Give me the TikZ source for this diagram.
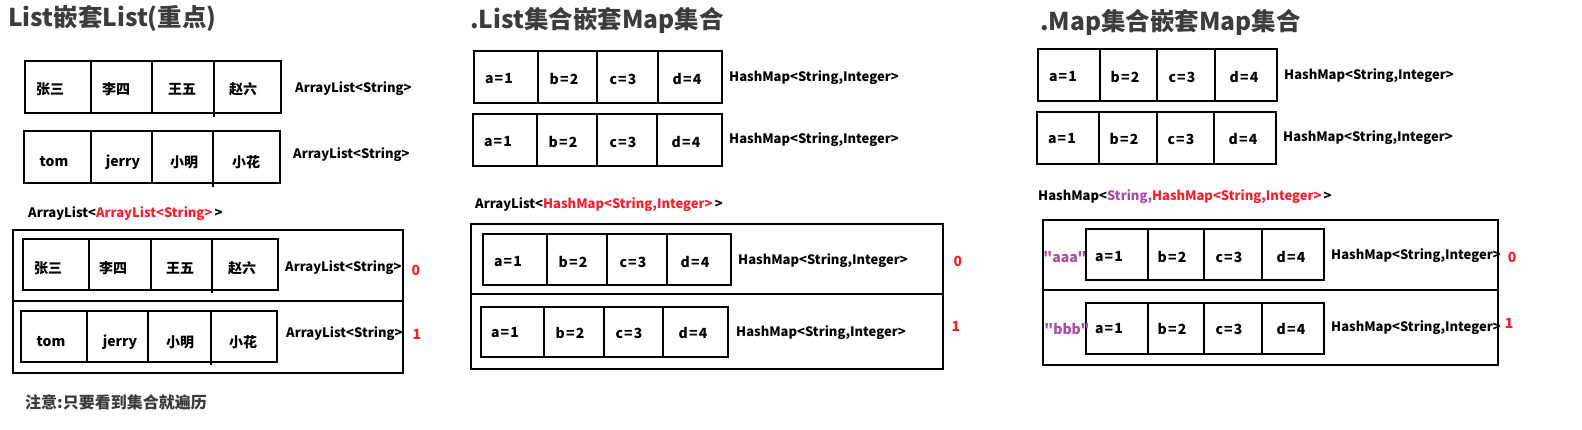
\documentclass[tikz,border=0pt]{standalone}
\usepackage{fontspec}
\setmainfont{Noto Sans CJK SC}[Ligatures=TeXOff]
\definecolor{myred}{RGB}{245,30,45}
\definecolor{mypurple}{RGB}{168,76,168}
\definecolor{ttlgray}{RGB}{60,60,60}
\newcommand\CellRect[8]{%
  \draw[box] (#1,#2) rectangle (#3,#4);
  \draw[box] (#5,#2)--(#5,#4) (#6,#2)--(#6,#4) (#7,#2)--(#7,#8);}
\newcommand\Eq[2]{#1\kern1.2pt=\kern1.2pt#2}
\tikzset{
  box/.style={line width=2.7pt},
  cell/.style={font=\fontsize{14}{14}\selectfont\bfseries, inner sep=0pt, anchor=center},
  lab/.style={font=\fontsize{13}{13}\selectfont\bfseries, inner sep=0pt, anchor=west},
  idx/.style={font=\fontsize{14}{14}\selectfont\bfseries, text=myred, inner sep=0pt, anchor=center},
  ttl/.style={font=\fontsize{24.5}{24.5}\selectfont\bfseries, text=ttlgray, inner sep=0pt, anchor=west},
  note/.style={font=\fontsize{16}{16}\selectfont\bfseries, text=ttlgray, inner sep=0pt, anchor=west}
}
\begin{document}
\begin{tikzpicture}[x=1pt,y=-1pt]
\useasboundingbox[fill=white] (0,0) rectangle (1582,430);
% ================= Panel 1 =================
\node[ttl] (t1) at (8,19) {List嵌套List(重点)};
\CellRect{25}{61}{281}{113}{91}{152}{214}{117}
\node[cell] (a1) at (50,89) {张三};
\node[cell] (a2) at (116,89) {李四};
\node[cell] (a3) at (182,89) {王五};
\node[cell] (a4) at (243,89) {赵六};
\node[lab] (al) at (295,89) {ArrayList<String>};
\CellRect{24}{131}{280}{183}{91}{152}{213}{187}
\node[cell] (b1) at (54,162) {tom};
\node[cell] (b2) at (123,162) {jerry};
\node[cell] (b3) at (184,162) {小明};
\node[cell] (b4) at (246,162) {小花};
\node[lab] (bl) at (293,155) {ArrayList<String>};
\node[lab] (l1) at (28,214) {ArrayList<\textcolor{myred}{ArrayList<String>}\,>};
\draw[box] (13,230) rectangle (403,373);
\draw[box] (13,301) -- (403,301);
\CellRect{23}{239}{278}{290}{89}{151}{212}{293}
\node[cell] (c1) at (48,268) {张三};
\node[cell] (c2) at (113,268) {李四};
\node[cell] (c3) at (180,268) {王五};
\node[cell] (c4) at (242,268) {赵六};
\node[lab] (cl) at (285,268) {ArrayList<String>};
\node[idx] (c0) at (416,270) {0};
\CellRect{21}{311}{277}{362}{87}{148}{211}{365}
\node[cell] (d1) at (51,342) {tom};
\node[cell] (d2) at (120,342) {jerry};
\node[cell] (d3) at (180,342) {小明};
\node[cell] (d4) at (243,342) {小花};
\node[lab] (dl) at (286,334) {ArrayList<String>};
\node[idx] (d0) at (417,334) {1};
\node[note] (n1) at (25,402) {注意:只要看到集合就遍历};
% ================= Panel 2 =================
\node[ttl] (t2) at (470,20) {.List集合嵌套Map集合};
\CellRect{474}{51}{722}{103}{538}{597}{658}{103}
\node[cell] (e1) at (499,79) {\Eq{a}{1}};
\node[cell] (e2) at (564,79) {\Eq{b}{2}};
\node[cell] (e3) at (623,79) {\Eq{c}{3}};
\node[cell] (e4) at (687,79) {\Eq{d}{4}};
\node[lab] (el) at (729,78) {HashMap<String,Integer>};
\CellRect{473}{114}{722}{166}{537}{597}{657}{166}
\node[cell] (f1) at (498,142) {\Eq{a}{1}};
\node[cell] (f2) at (563,142) {\Eq{b}{2}};
\node[cell] (f3) at (623,142) {\Eq{c}{3}};
\node[cell] (f4) at (686,142) {\Eq{d}{4}};
\node[lab] (fl) at (729,140) {HashMap<String,Integer>};
\node[lab] (l2) at (475,205) {ArrayList<\textcolor{myred}{HashMap<String,Integer>}\,>};
\draw[box] (471,224) rectangle (943,369);
\draw[box] (471,294) -- (943,294);
\CellRect{483}{234}{731}{285}{547}{607}{667}{285}
\node[cell] (g1) at (508,262) {\Eq{a}{1}};
\node[cell] (g2) at (573,262) {\Eq{b}{2}};
\node[cell] (g3) at (633,262) {\Eq{c}{3}};
\node[cell] (g4) at (695,262) {\Eq{d}{4}};
\node[lab] (gl) at (738,261) {HashMap<String,Integer>};
\node[idx] (g0) at (958,261) {0};
\CellRect{481}{307}{728}{357}{544}{604}{663}{357}
\node[cell] (h1) at (505,333) {\Eq{a}{1}};
\node[cell] (h2) at (570,333) {\Eq{b}{2}};
\node[cell] (h3) at (629,333) {\Eq{c}{3}};
\node[cell] (h4) at (693,333) {\Eq{d}{4}};
\node[lab] (hl) at (736,333) {HashMap<String,Integer>};
\node[idx] (h0) at (956,326) {1};
% ================= Panel 3 =================
\node[ttl] (t3) at (1040,22) {.Map集合嵌套Map集合};
\CellRect{1038}{49}{1277}{101}{1100}{1157}{1215}{101}
\node[cell] (i1) at (1063,77) {\Eq{a}{1}};
\node[cell] (i2) at (1125,77) {\Eq{b}{2}};
\node[cell] (i3) at (1182,77) {\Eq{c}{3}};
\node[cell] (i4) at (1244,77) {\Eq{d}{4}};
\node[lab] (il) at (1284,76) {HashMap<String,Integer>};
\CellRect{1037}{112}{1276}{164}{1099}{1157}{1214}{164}
\node[cell] (j1) at (1062,139) {\Eq{a}{1}};
\node[cell] (j2) at (1124,139) {\Eq{b}{2}};
\node[cell] (j3) at (1181,139) {\Eq{c}{3}};
\node[cell] (j4) at (1243,139) {\Eq{d}{4}};
\node[lab] (jl) at (1283,138) {HashMap<String,Integer>};
\node[lab] (l3) at (1038,197) {HashMap<\textcolor{mypurple}{String,}\textcolor{myred}{HashMap<String,Integer>}\,>};
\draw[box] (1043,220) rectangle (1498,365);
\draw[box] (1043,290) -- (1498,290);
\CellRect{1086}{229}{1324}{280}{1148}{1204}{1262}{280}
\node[cell, text=mypurple] (kk) at (1065,257) {"aaa"};
\node[cell] (k1) at (1109,257) {\Eq{a}{1}};
\node[cell] (k2) at (1172,257) {\Eq{b}{2}};
\node[cell] (k3) at (1229,257) {\Eq{c}{3}};
\node[cell] (k4) at (1291,257) {\Eq{d}{4}};
\node[lab] (kl) at (1331,256) {HashMap<String,Integer>};
\node[idx] (k0) at (1512,257) {0};
\CellRect{1086}{303}{1324}{354}{1148}{1204}{1262}{354}
\node[cell, text=mypurple] (mk) at (1067,329) {"bbb"};
\node[cell] (m1) at (1109,329) {\Eq{a}{1}};
\node[cell] (m2) at (1172,329) {\Eq{b}{2}};
\node[cell] (m3) at (1229,329) {\Eq{c}{3}};
\node[cell] (m4) at (1291,329) {\Eq{d}{4}};
\node[lab] (ml) at (1331,328) {HashMap<String,Integer>};
\node[idx] (m0) at (1509,323) {1};
\end{tikzpicture}
\end{document}
